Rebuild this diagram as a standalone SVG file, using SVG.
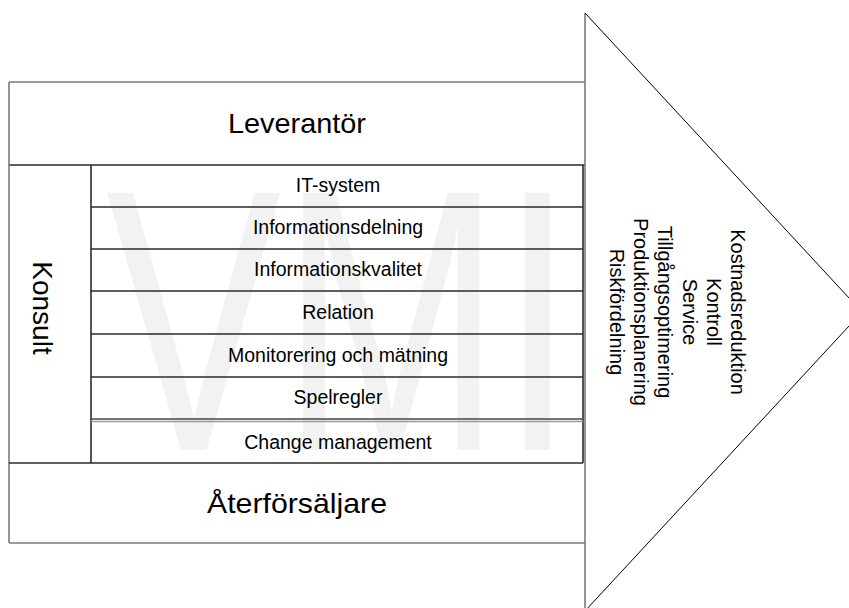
<svg xmlns="http://www.w3.org/2000/svg" width="849" height="608" viewBox="0 0 849 608">
<style>
.big{font-family:"Liberation Sans",Arial,sans-serif;font-size:28px;fill:#000}
.row{font-family:"Liberation Sans",Arial,sans-serif;font-size:19.5px;fill:#000;text-anchor:middle}
.ben{font-family:"Liberation Sans",Arial,sans-serif;font-size:20px;fill:#000;text-anchor:middle}
.dark{stroke:#2a2a2a;stroke-width:1.6;fill:none}
.gray{stroke:#7a7a7a;stroke-width:1.6;fill:none}
.wm{font-family:"Liberation Sans",Arial,sans-serif;font-size:374px;fill:#f2f2f2}
</style>
<rect x="0" y="0" width="849" height="608" fill="#fff"/>
<g id="watermark">
<text class="wm" x="106" y="450" textLength="468" lengthAdjust="spacingAndGlyphs">VMI</text>
</g>
<g id="leverantor">
<line class="gray" x1="9" y1="82" x2="585" y2="82"/>
<line class="dark" x1="9" y1="165" x2="585" y2="165"/>
<text class="big" x="297" y="133" text-anchor="middle" textLength="138" lengthAdjust="spacingAndGlyphs">Leverantör</text>
</g>
<g id="konsult">
<line class="gray" x1="9" y1="82" x2="9" y2="543"/>
<line class="dark" x1="91" y1="165" x2="91" y2="463"/>
<text class="big" font-size="26" transform="translate(33,308) rotate(90)" text-anchor="middle">Konsult</text>
</g>
<g id="rows">
<line class="dark" x1="583" y1="165" x2="583" y2="463"/>
<line class="dark" x1="91" y1="207" x2="583" y2="207"/>
<line class="dark" x1="91" y1="249" x2="583" y2="249"/>
<line class="dark" x1="91" y1="291" x2="583" y2="291"/>
<line class="dark" x1="91" y1="334" x2="583" y2="334"/>
<line class="dark" x1="91" y1="377" x2="583" y2="377"/>
<line stroke="#444" stroke-width="1.6" x1="91" y1="419" x2="583" y2="419"/>
<line stroke="#9a9a9a" stroke-width="1.6" x1="91" y1="421.5" x2="583" y2="421.5"/>
<line class="dark" x1="9" y1="463" x2="583" y2="463"/>
</g>
<g id="it-system"><text class="row" x="338" y="192">IT-system</text></g>
<g id="informationsdelning"><text class="row" x="338" y="234">Informationsdelning</text></g>
<g id="informationskvalitet"><text class="row" x="338" y="276">Informationskvalitet</text></g>
<g id="relation"><text class="row" x="338" y="319">Relation</text></g>
<g id="monitorering"><text class="row" x="338" y="362">Monitorering och mätning</text></g>
<g id="spelregler"><text class="row" x="338" y="404">Spelregler</text></g>
<g id="change-management"><text class="row" x="338" y="449">Change management</text></g>
<g id="aterforsaljare">
<line class="gray" x1="9" y1="543" x2="585" y2="543"/>
<text class="big" x="297" y="513" text-anchor="middle" textLength="180" lengthAdjust="spacingAndGlyphs">Återförsäljare</text>
</g>
<g id="arrow">
<line class="gray" x1="585" y1="13" x2="585" y2="608"/>
<polyline points="585,13 862,312 585,611" fill="none" stroke="#000" stroke-width="1"/>
<g transform="translate(731,312) rotate(90)">
<text class="ben" x="0" y="0">Kostnadsreduktion</text>
<text class="ben" x="0" y="24.2">Kontroll</text>
<text class="ben" x="0" y="48.4">Service</text>
<text class="ben" x="0" y="72.6">Tillgångsoptimering</text>
<text class="ben" x="0" y="96.8">Produktionsplanering</text>
<text class="ben" x="0" y="121">Riskfördelning</text>
</g>
</g>
</svg>
